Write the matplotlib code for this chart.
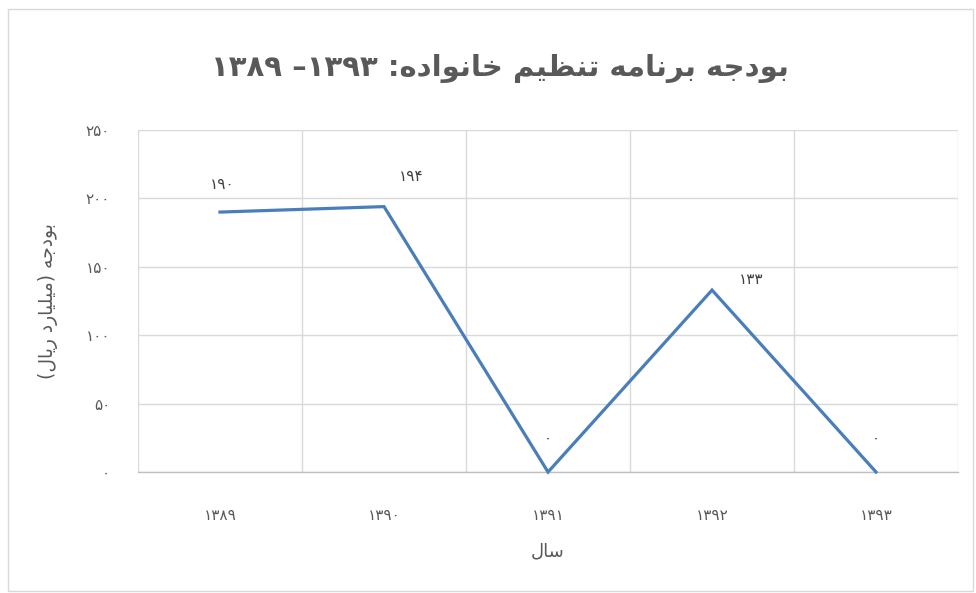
import matplotlib
matplotlib.use("Agg")
import matplotlib.pyplot as plt
from matplotlib.patches import Rectangle

# --- data (logical Persian text, shaped below) ---
years = [1389, 1390, 1391, 1392, 1393]
budget = [190, 194, 0, 133, 0]
yticks = [0, 50, 100, 150, 200, 250]
title_txt = "بودجه برنامه تنظیم خانواده: ۱۳۹۳– ۱۳۸۹"
ylabel_txt = "بودجه (میلیارد ریال)"
xlabel_txt = "سال"

# label offsets in pixels (style only)
label_offsets = [(2, 28), (27, 30), (0, 34), (39, 11), (0, 34)]

###################################
# tiny arabic shaper: (isolated, final, initial, medial)
FORMS = {
    'ا': ('\uFE8D', '\uFE8E', None, None),
    'ب': ('\uFE8F', '\uFE90', '\uFE91', '\uFE92'),
    'ت': ('\uFE95', '\uFE96', '\uFE97', '\uFE98'),
    'ج': ('\uFE9D', '\uFE9E', '\uFE9F', '\uFEA0'),
    'خ': ('\uFEA5', '\uFEA6', '\uFEA7', '\uFEA8'),
    'د': ('\uFEA9', '\uFEAA', None, None),
    'ر': ('\uFEAD', '\uFEAE', None, None),
    'س': ('\uFEB1', '\uFEB2', '\uFEB3', '\uFEB4'),
    'ظ': ('\uFEC5', '\uFEC6', '\uFEC7', '\uFEC8'),
    'ل': ('\uFEDD', '\uFEDE', '\uFEDF', '\uFEE0'),
    'م': ('\uFEE1', '\uFEE2', '\uFEE3', '\uFEE4'),
    'ن': ('\uFEE5', '\uFEE6', '\uFEE7', '\uFEE8'),
    'ه': ('\uFEE9', '\uFEEA', '\uFEEB', '\uFEEC'),
    'و': ('\uFEED', '\uFEEE', None, None),
    '\u06cc': ('\uFBFC', '\uFBFD', '\uFEF3', '\uFEF4'),
    '\u064a': ('\uFEF1', '\uFEF2', '\uFEF3', '\uFEF4'),
}
DIGITS = set("0123456789" + "".join(chr(0x06F0 + i) for i in range(10)))
MIRROR = {'(': ')', ')': '('}


def shape(text):
    out = []
    for i, c in enumerate(text):
        if c not in FORMS:
            out.append(c)
            continue
        prev_j = i > 0 and text[i-1] in FORMS and FORMS[text[i-1]][2] is not None
        next_j = FORMS[c][2] is not None and i+1 < len(text) and text[i+1] in FORMS
        if prev_j and next_j:
            out.append(FORMS[c][3])
        elif prev_j:
            out.append(FORMS[c][1])
        elif next_j:
            out.append(FORMS[c][2])
        else:
            out.append(FORMS[c][0])
    # visual order: reverse, keep digit runs LTR, mirror brackets
    rev = out[::-1]
    res = []
    run = []
    for c in rev:
        if c in DIGITS:
            run.append(c)
        else:
            if run:
                res.extend(run[::-1])
                run = []
            res.append(MIRROR.get(c, c))
    if run:
        res.extend(run[::-1])
    return "".join(res)


def fa(n):
    return "".join(chr(0x06F0 + int(d)) for d in str(n))


###### -------------- main ----------- ######
plt.rcParams['font.family'] = ['DejaVu Sans']
fig = plt.figure(figsize=(9.76, 5.93), dpi=100)
fig.patches.append(Rectangle((0.008, 0.004), 0.989, 0.981, transform=fig.transFigure,
                             fill=False, edgecolor='#d9d9d9', linewidth=1))

ax = fig.add_axes([0.1414, 0.204, 0.8402, 0.5768])
xs = list(range(len(years)))
ax.plot(xs, budget, color='#4a7ebb', linewidth=2.3, solid_joinstyle='miter', zorder=3,
        clip_on=False)

for ii in range(len(years)):
    dx, dy = label_offsets[ii]
    ax.annotate(fa(budget[ii]), (xs[ii], budget[ii]), xytext=(dx, dy),
                textcoords='offset pixels', ha='center', va='center',
                fontsize=11, color='#404040')

ax.set_xlim(-0.5, len(years) - 0.5)
ax.set_ylim(0, 250)
ax.set_yticks(yticks)
ax.set_yticklabels([fa(v) for v in yticks])
ax.set_xticks(xs)
ax.set_xticklabels([fa(y) for y in years])
ax.set_xticks([x - 0.5 for x in range(len(years) + 1)], minor=True)

ax.grid(True, axis='y', color='#d9d9d9', linewidth=1)
ax.grid(True, axis='x', which='minor', color='#d9d9d9', linewidth=1)
ax.set_axisbelow(True)
for s in ['top', 'right', 'left']:
    ax.spines[s].set_visible(False)
ax.spines['bottom'].set_color('#bfbfbf')
ax.spines['bottom'].set_linewidth(1)
ax.tick_params(axis='both', which='both', length=0, colors='#595959', labelsize=11)
ax.tick_params(axis='x', pad=26)
ax.tick_params(axis='y', pad=20)

ax.set_xlabel(shape(xlabel_txt), fontsize=13, color='#595959', labelpad=14)
ax.set_ylabel(shape(ylabel_txt), fontsize=13.5, color='#595959', labelpad=20)

fig.text(0.512, 0.885, shape(title_txt), ha='center', va='center',
         fontsize=21, fontweight='bold', color='#595959')

plt.savefig("out.png", dpi=100)
